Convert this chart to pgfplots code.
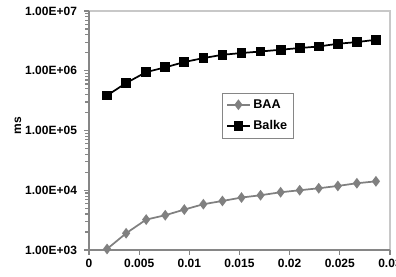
\documentclass[border=0pt]{standalone}
\usepackage{pgfplots}
\pgfplotsset{compat=1.18}
\usepackage{fontspec}
\setmainfont{Liberation Sans}
\definecolor{axgray}{RGB}{134,134,134}
\definecolor{lightgray}{RGB}{200,200,200}
\definecolor{baagray}{RGB}{128,128,128}
\begin{document}
\begin{tikzpicture}[x=0.75pt,y=0.75pt]
\begin{axis}[
  scale only axis,
  width=225.75pt, height=179.25pt,
  ymode=log,
  xmin=0, xmax=0.03,
  ymin=1e3, ymax=1e7,
  axis line style={draw=none},
  xtick={0,0.005,0.01,0.015,0.02,0.025,0.03},
  xticklabels={0,0.005,0.01,0.015,0.02,0.025,0.03},
  ytick={1e3,1e4,1e5,1e6,1e7},
  yticklabels={1.00E+03,1.00E+04,1.00E+05,1.00E+06,1.00E+07},
  minor ytick={},
  tick align=outside,
  major tick length=3.5pt,
  tick style={axgray, line width=0.8pt},
  xtick pos=bottom, ytick pos=left,
  ticklabel style={font=\fontsize{9}{10}\selectfont\bfseries},
  xticklabel style={yshift=0.5pt},
  yticklabel style={xshift=-2pt},
  ylabel={ms},
  ylabel style={font=\fontsize{9}{10}\selectfont\bfseries, at={(axis description cs:-0.236,0.52)}, anchor=center, rotate=0},
  legend style={at={(axis cs:0.0133,4.25e5)}, anchor=north west, draw=axgray, line width=0.6pt,
    font=\fontsize{9.5}{11}\selectfont\bfseries, inner sep=2.5pt, row sep=4pt,
    /tikz/every even column/.append style={column sep=2pt}},
  legend cell align=left,
  legend image post style={sharp plot},
  clip=false,
]
\draw[lightgray, line width=0.8pt] (rel axis cs:0,1) -- (rel axis cs:1,1) -- (rel axis cs:1,0);
\draw[axgray, line width=0.8pt] (rel axis cs:0,1) -- (rel axis cs:0,0) -- (rel axis cs:1,0);
\addplot[baagray, line width=1.3pt, mark=diamond*, mark size=3pt, mark options={fill=baagray, draw=baagray}] coordinates {
(0.0018,1040) (0.0037,1906) (0.0057,3230) (0.0076,3820) (0.0095,4750)
(0.0114,5840) (0.0133,6620) (0.0152,7550) (0.0171,8250) (0.0191,9260)
(0.0210,10000) (0.0229,10800) (0.0248,11800) (0.0267,13100) (0.0286,14100)};
\addlegendentry{BAA}
\addplot[black, line width=1.3pt, mark=square*, mark size=3pt, mark options={fill=black}] coordinates {
(0.0018,386000) (0.0037,623000) (0.0057,950000) (0.0076,1140000) (0.0095,1400000)
(0.0114,1630000) (0.0133,1850000) (0.0152,1980000) (0.0171,2100000) (0.0191,2250000)
(0.0210,2400000) (0.0229,2550000) (0.0248,2830000) (0.0267,3020000) (0.0286,3300000)};
\addlegendentry{Balke}
\end{axis}
\pgfresetboundingbox
\path (-66.75pt,-19.5pt) rectangle (230.25pt,187.5pt);
\end{tikzpicture}
\end{document}
